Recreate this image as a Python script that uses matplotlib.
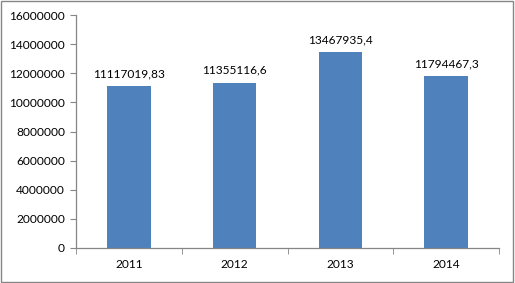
import matplotlib
matplotlib.use('Agg')
import matplotlib.pyplot as plt
import numpy as np

# data
years = ["2011", "2012", "2013", "2014"]
values = [11117019.83, 11355116.6, 13467935.4, 11794467.3]
value_labels = ["11117019,83", "11355116,6", "13467935,4", "11794467,3"]
yticks = [0, 2000000, 4000000, 6000000, 8000000, 10000000, 12000000, 14000000, 16000000]

plt.rcParams['font.family'] = ['Lato', 'DejaVu Sans']
plt.rcParams['font.size'] = 8.6

fig = plt.figure(figsize=(5.15, 2.83), dpi=100)
ax = fig.add_axes([76/515, 1-248/283, (499-76)/515, (248-15)/283])

x = np.arange(len(years))
bars = ax.bar(x, values, width=0.41, color="#4F81BD")

for xi, v, lab in zip(x, values, value_labels):
    ax.annotate(lab, (xi, v), xytext=(0, 5), textcoords="offset points",
                ha="center", va="bottom", color="#000000")

ax.set_xlim(-0.5, len(years)-0.5)
ax.set_ylim(0, 16000000)
ax.set_yticks(yticks)
ax.set_yticklabels([str(t) for t in yticks])

# category labels in the middle, tick marks on the boundaries
ax.set_xticks(x)
ax.set_xticklabels(years)
ax.tick_params(axis='x', which='major', length=0, pad=8)
ax.set_xticks(np.arange(len(years)+1)-0.5, minor=True)
ax.tick_params(axis='x', which='minor', length=4, direction='out', color="#868686")
ax.tick_params(axis='y', length=4, direction='out', color="#868686", pad=4)

for s in ["top", "right"]:
    ax.spines[s].set_visible(False)
for s in ["left", "bottom"]:
    ax.spines[s].set_color("#868686")
    ax.spines[s].set_linewidth(0.9)

# outer frame of the chart area
fig.patches.append(plt.Rectangle((0.002, 0.004), 0.995, 0.992, transform=fig.transFigure,
                                 fill=False, edgecolor="#868686", linewidth=1.0))

plt.savefig("out.png", dpi=100)
